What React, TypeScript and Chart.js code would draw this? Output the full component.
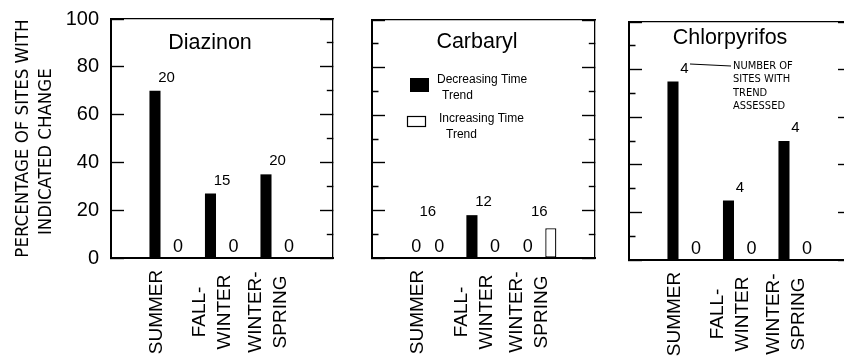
import React, { useEffect, useRef } from 'react';
import { Chart, registerables } from 'chart.js';

Chart.register(...registerables);

// ---------------- data ----------------
const categories = ['SUMMER', 'FALL-WINTER', 'WINTER-SPRING'];
const seriesNames = ['Decreasing Time Trend', 'Increasing Time Trend'];
const yTitle = ['PERCENTAGE OF SITES WITH', 'INDICATED CHANGE'];
const calloutText = ['NUMBER OF', 'SITES WITH', 'TREND', 'ASSESSED'];

const diazinonDecreasing = [70, 27, 35];
const diazinonIncreasing = [0, 0, 0];
const diazinonSites = [20, 15, 20];

const carbarylDecreasing = [0, 18, 0];
const carbarylIncreasing = [0, 0, 12.5];
const carbarylSites = [16, 12, 16];

const chlorpyrifosDecreasing = [75, 25, 50];
const chlorpyrifosIncreasing = [0, 0, 0];
const chlorpyrifosSites = [4, 4, 4];

// ---------------- layout ----------------
const CANVAS_W = 880;
const CANVAS_H = 358;
const SANS = '"Liberation Sans", Arial, Helvetica, sans-serif';
const NARROW = '"Liberation Sans Narrow", "Arial Narrow", "DejaVu Sans Condensed", sans-serif';

Chart.defaults.font.family = SANS;
Chart.defaults.color = '#000';

type Panel = {
  name: string;
  decreasing: number[];
  increasing: number[];
  sites: number[];
  left: number;
  right: number;
  top: number;
  bottom: number;
  showY: boolean;
  titleDx: number;
  titleDy: number;
  legend?: boolean;
  callout?: boolean;
};

const panels: Panel[] = [
  { name: 'Diazinon', decreasing: diazinonDecreasing, increasing: diazinonIncreasing, sites: diazinonSites,
    left: 111, right: 333, top: 19, bottom: 258, showY: true, titleDx: 99, titleDy: 24 },
  { name: 'Carbaryl', decreasing: carbarylDecreasing, increasing: carbarylIncreasing, sites: carbarylSites,
    left: 372, right: 595, top: 20, bottom: 258, showY: false, titleDx: 105, titleDy: 22, legend: true },
  { name: 'Chlorpyrifos', decreasing: chlorpyrifosDecreasing, increasing: chlorpyrifosIncreasing, sites: chlorpyrifosSites,
    left: 629, right: 851, top: 22, bottom: 260, showY: false, titleDx: 101, titleDy: 16, callout: true },
];

function labelLines(label: string): string[] {
  const dash = label.indexOf('-');
  return dash >= 0 ? [label.slice(0, dash + 1), label.slice(dash + 1)] : [label];
}

function makeDecorPlugin(p: Panel) {
  return {
    id: 'panelDecor',
    afterDatasetsDraw(chart: any) {
      const { ctx, chartArea } = chart;
      const dec = chart.getDatasetMeta(0).data;
      const inc = chart.getDatasetMeta(1).data;
      const xs = chart.scales.x;
      ctx.save();
      ctx.fillStyle = '#000';
      ctx.strokeStyle = '#000';
      ctx.textAlign = 'center';
      ctx.textBaseline = 'middle';

      // panel title
      ctx.font = `21.5px ${SANS}`;
      ctx.fillText(p.name, chartArea.left + p.titleDx, chartArea.top + p.titleDy);

      for (let i = 0; i < categories.length; i++) {
        const idx = i + 1;
        const d = dec[idx];
        const n = inc[idx];
        ctx.font = `18px ${SANS}`;
        if (p.decreasing[i] === 0) ctx.fillText('0', d.x, chartArea.bottom - 11);
        if (p.increasing[i] === 0) ctx.fillText('0', n.x, chartArea.bottom - 11);
        const topY = Math.min(d.y, n.y, chartArea.bottom - 33);
        ctx.font = `15px ${SANS}`;
        ctx.fillText(String(p.sites[i]), xs.getPixelForValue(idx), topY - 13);

        // rotated category label (reads bottom to top), centred under the group
        const lines = labelLines(categories[i]);
        const cx = xs.getPixelForValue(idx) - 9.5;
        const cy = chartArea.bottom + 54;
        ctx.font = `19px ${SANS}`;
        lines.forEach((ln, k) => {
          const lx = cx + (k - (lines.length - 1) / 2) * 25;
          ctx.save();
          ctx.translate(lx, cy);
          ctx.rotate(-Math.PI / 2);
          ctx.fillText(ln, 0, 0);
          ctx.restore();
        });
      }

      if (p.legend) {
        const ds = chart.data.datasets;
        const L = chartArea.left;
        const T = chartArea.top;
        ctx.fillStyle = ds[0].backgroundColor;
        ctx.fillRect(L + 38, T + 58, 19, 14);
        ctx.fillStyle = ds[1].backgroundColor;
        ctx.fillRect(L + 35, T + 96, 19, 11);
        ctx.lineWidth = 1.2;
        ctx.strokeStyle = ds[1].borderColor;
        ctx.strokeRect(L + 35.5, T + 96.5, 18, 10);
        ctx.fillStyle = '#000';
        ctx.font = `12px ${SANS}`;
        ctx.textAlign = 'left';
        const split = (s: string) => {
          const k = s.lastIndexOf(' ');
          return [s.slice(0, k), s.slice(k + 1)];
        };
        const a = split(seriesNames[0]);
        const b = split(seriesNames[1]);
        ctx.fillText(a[0], L + 65, T + 60);
        ctx.fillText(a[1], L + 70, T + 76);
        ctx.fillText(b[0], L + 67, T + 99);
        ctx.fillText(b[1], L + 74, T + 115);
      }

      if (p.callout) {
        const L = chartArea.left;
        const T = chartArea.top;
        ctx.lineWidth = 1;
        ctx.beginPath();
        ctx.moveTo(L + 61, T + 42);
        ctx.lineTo(L + 102, T + 44);
        ctx.stroke();
        ctx.font = `11px ${NARROW}`;
        ctx.textAlign = 'left';
        calloutText.forEach((t, k) => ctx.fillText(t, L + 104, T + 44 + k * 13.5));
      }
      ctx.restore();
    },
  };
}

function makeConfig(p: Panel): any {
  const yW = p.showY ? p.left : 0;
  const xLabels: string[] = ['', ...categories, ''];
  const minorDashLeft = (c: any) => (c.tick && c.tick.value % 20 === 0 ? [] : [0, 6.5, 7, 100]);
  const minorDashRight = (c: any) => (c.tick && c.tick.value % 20 === 0 ? [] : [6.5, 100]);
  return {
    type: 'bar',
    data: {
      labels: xLabels,
      datasets: [
        {
          label: seriesNames[0],
          data: [null, ...p.decreasing, null],
          backgroundColor: '#000',
          borderColor: '#000',
          borderWidth: 0,
          categoryPercentage: 0.83,
          barPercentage: 0.48,
          xAxisID: 'x',
          yAxisID: 'y',
        },
        {
          label: seriesNames[1],
          data: [null, ...p.increasing, null],
          backgroundColor: '#fff',
          borderColor: '#000',
          borderWidth: 1.3,
          borderSkipped: false,
          categoryPercentage: 0.83,
          barPercentage: 0.48,
          xAxisID: 'x',
          yAxisID: 'y',
        },
      ],
    },
    options: {
      responsive: false,
      animation: false,
      events: [],
      layout: {
        padding: { left: p.left - yW, top: p.top, right: CANVAS_W - p.right, bottom: 0 },
      },
      plugins: { legend: { display: false }, tooltip: { enabled: false }, title: { display: false } },
      scales: {
        x: {
          type: 'category',
          position: 'bottom',
          offset: false,
          grid: { display: true, drawOnChartArea: false, drawTicks: false },
          border: { display: true, color: '#000', width: 2 },
          ticks: { display: false, autoSkip: false },
          afterFit: (s: any) => {
            s.height = CANVAS_H - p.bottom;
            s.paddingLeft = 0;
            s.paddingRight = 0;
          },
        },
        xTop: {
          type: 'category',
          position: 'top',
          offset: false,
          display: true,
          grid: { display: true, drawOnChartArea: false, drawTicks: false },
          border: { display: true, color: '#000', width: 1.3 },
          ticks: { display: false },
          afterFit: (s: any) => {
            s.height = 0;
          },
        },
        y: {
          type: 'linear',
          position: 'left',
          min: 0,
          max: 100,
          ticks: {
            stepSize: 10,
            display: p.showY,
            padding: 25,
            color: '#000',
            font: { size: 20 },
            callback: (v: any) => (Number(v) % 20 === 0 ? String(v) : ''),
          },
          grid: {
            display: true,
            drawOnChartArea: false,
            drawTicks: true,
            tickLength: -13,
            tickColor: '#000',
            tickWidth: 1.4,
            tickBorderDash: minorDashLeft,
          },
          border: { display: true, color: '#000', width: 2 },
          title: {
            display: p.showY,
            text: [yTitle[0], yTitle[1] + '     '],
            color: '#000',
            font: { size: 18.5, family: NARROW, lineHeight: 1.243 },
            padding: { top: 11.5, bottom: 0 },
          },
          afterFit: (s: any) => {
            s.width = yW;
            s.paddingTop = 0;
            s.paddingBottom = 0;
          },
        },
        yRight: {
          type: 'linear',
          position: 'right',
          display: true,
          min: 0,
          max: 100,
          ticks: { stepSize: 10, display: false },
          grid: {
            display: true,
            drawOnChartArea: false,
            drawTicks: true,
            tickLength: -13,
            tickColor: '#000',
            tickWidth: 1.4,
            tickBorderDash: minorDashRight,
          },
          border: { display: true, color: '#000', width: 1.3 },
          afterFit: (s: any) => {
            s.width = 0;
            s.paddingTop = 0;
            s.paddingBottom = 0;
          },
        },
      },
    },
    plugins: [makeDecorPlugin(p)],
  };
}

function PanelChart({ panel }: { panel: Panel }) {
  const ref = useRef<HTMLCanvasElement>(null);
  useEffect(() => {
    const chart = new Chart(ref.current as HTMLCanvasElement, makeConfig(panel));
    return () => chart.destroy();
  }, [panel]);
  return (
    <canvas
      ref={ref}
      width={CANVAS_W}
      height={CANVAS_H}
      style={{ position: 'absolute', left: 0, top: 0, width: CANVAS_W, height: CANVAS_H }}
    />
  );
}

export default function App() {
  return (
    <div
      style={{
        position: 'absolute',
        left: 0,
        top: 0,
        width: 844,
        height: 358,
        overflow: 'hidden',
        background: '#fff',
      }}
    >
      {panels.map((p) => (
        <PanelChart key={p.name} panel={p} />
      ))}
    </div>
  );
}
